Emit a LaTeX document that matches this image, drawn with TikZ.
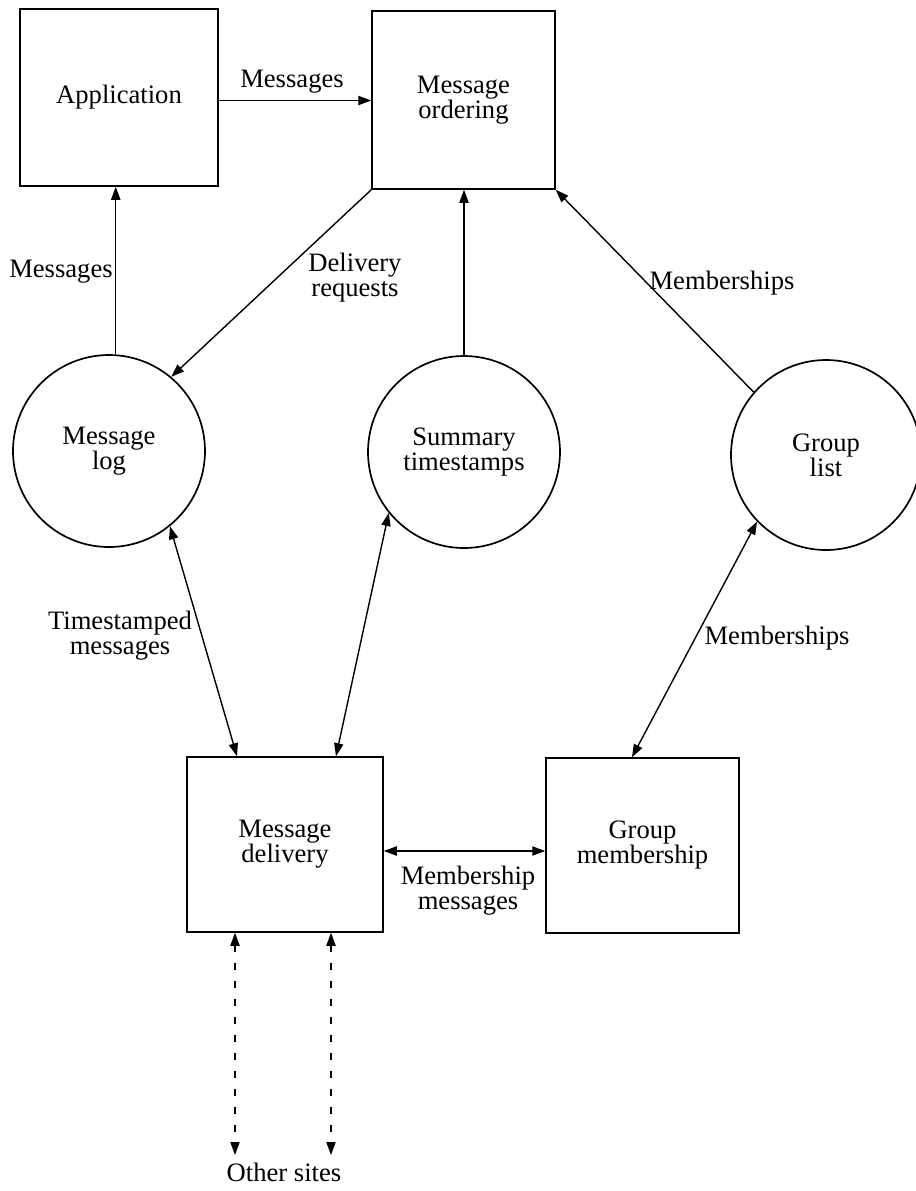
\documentclass[tikz,border=0pt]{standalone}
\usepackage{fontspec}
\setmainfont{Liberation Serif}
\usetikzlibrary{arrows.meta}
\begin{document}
\begin{tikzpicture}[x=0.5pt,y=-0.5pt,
  every node/.style={font=\fontsize{13.3}{12.5}\selectfont, align=center, inner sep=0pt},
  proc/.style={draw, line width=0.75pt, rectangle},
  store/.style={draw, line width=0.85pt, circle, minimum size=96pt},
  tip/.tip={Triangle[length=6.5pt,width=4.6pt]},
  flow/.style={line width=0.7pt, -tip},
  biflow/.style={line width=0.7pt, tip-tip},
  netflow/.style={biflow, dash pattern=on 3.5pt off 5.5pt},
  lbl/.style={}]
\useasboundingbox (0,0) rectangle (916,1191);

% processes
\node[proc, minimum width=99pt, minimum height=88.5pt] (app) at (119,97.5) {Application};
\node[proc, minimum width=91.5pt, minimum height=89pt] (ord) at (463.5,100) {Message\\ordering};
\node[proc, minimum width=98pt, minimum height=87.5pt] (del) at (285,844.5) {Message\\delivery};
\node[proc, minimum width=96.5pt, minimum height=87.5pt] (gm) at (642.5,845.5) {Group\\membership};

% data stores
\node[store] (log) at (109,451) {Message\\log};
\node[store] (sum) at (464,452) {Summary\\timestamps};
\node[store, minimum size=95pt] (grp) at (826,455) {Group\\list};

% far ends of the network links
\coordinate (os1) at (235,1155);
\coordinate (os2) at (331,1155);

% flows
\draw[flow] ([yshift=-1.5pt]app.east) -- ([yshift=-1.5pt]app.east -| ord.west);
\draw[flow] (log.86) -- (log.86 |- app.south);
\draw[flow] (ord.south west) -- (log.50);
\draw[flow] (sum.north) -- (sum.north |- ord.south);
\draw[flow] (grp.139) -- (ord.south east);
\draw[biflow] (log.309) -- ([xshift=-24pt]del.north);
\draw[biflow] (sum.219) -- ([xshift=25.5pt]del.north);
\draw[biflow] (grp.224) -- ([xshift=-5.25pt]gm.north);
\draw[biflow] ([yshift=-3.25pt]del.east) -- ([yshift=-3.25pt]del.east -| gm.west);
\draw[netflow] (os1 |- del.south) -- (os1);
\draw[netflow] (os2 |- del.south) -- (os2);

% labels
\node[lbl] (l1) at (292,82) {Messages};
\node[lbl] (l2) at (61,272) {Messages};
\node[lbl] (l3) at (355,278) {Delivery\\requests};
\node[lbl] (l4) at (722,283) {Memberships};
\node[lbl] (l5) at (120,636) {Timestamped\\messages};
\node[lbl] (l6) at (777,638) {Memberships};
\node[lbl] (l7) at (468,891) {Membership\\messages};
\node[lbl] (os) at (284,1172) {Other sites};
\end{tikzpicture}
\end{document}
